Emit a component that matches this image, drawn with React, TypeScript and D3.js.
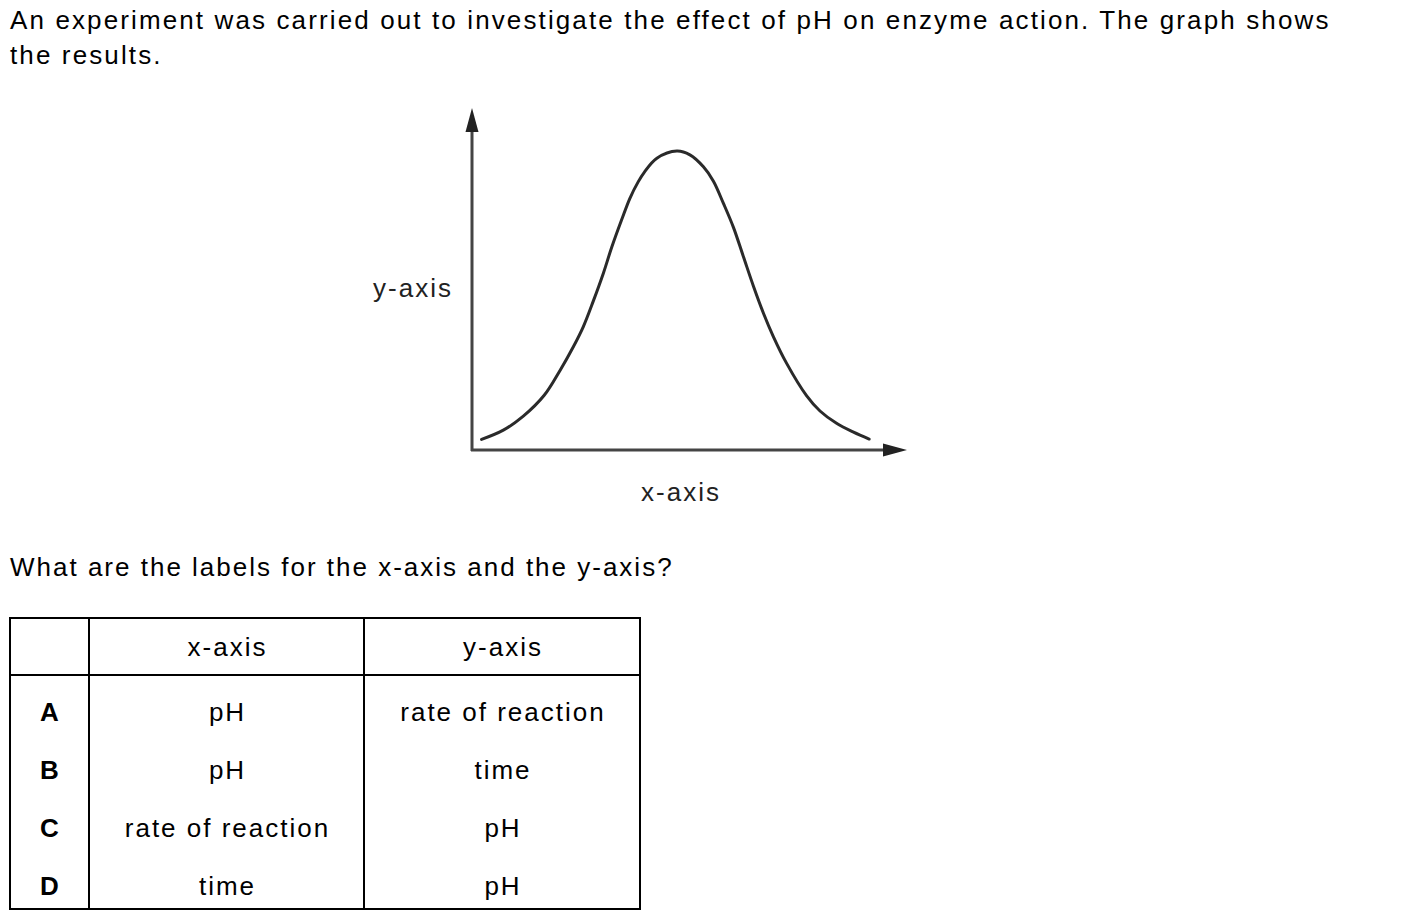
import React from 'react';
import * as d3 from 'd3';

// curve (arbitrary units: x 0..100 along the axis, y 0..100 up the axis)
const phValues = [2.2, 7.2, 11.8, 16.6, 20.2, 23.3, 25.6, 27.9, 30.2, 32.1, 34.4, 36.3, 38.2, 39.6, 42.5, 47.1, 50.1, 53.2, 55.5, 57.8, 60.1, 62.4, 64.7, 67.0, 69.3, 72.3, 76.9, 80.0, 83.8, 87.7, 91.3];
const rateValues = [3.1, 5.8, 9.9, 16.0, 23.2, 30.2, 36.1, 43.6, 51.7, 59.2, 67.3, 73.6, 78.4, 81.2, 85.3, 87.4, 86.3, 82.8, 78.6, 72.1, 65.1, 56.5, 47.9, 40.0, 33.1, 25.4, 15.9, 11.4, 7.8, 5.2, 3.2];

const questionLines = [
  'An experiment was carried out to investigate the effect of pH on enzyme action. The graph shows',
  'the results.',
];
const question2 = 'What are the labels for the x-axis and the y-axis?';

const tableHeader = ['', 'x-axis', 'y-axis'];
const options = ['A', 'B', 'C', 'D'];
const xLabels = ['pH', 'pH', 'rate of reaction', 'time'];
const yLabels = ['rate of reaction', 'time', 'pH', 'pH'];

const FONT = '"Liberation Sans", Arial, sans-serif';

const App = () => {
  const W = 1413;
  const H = 923;

  // graph area
  const x0 = 472, x1 = 907, yBase = 450, yTop = 108;
  const x = d3.scaleLinear().domain([0, 100]).range([x0, x1]);
  const y = d3.scaleLinear().domain([0, 100]).range([yBase, yTop]);

  const pts = phValues.map((v, i) => [v, rateValues[i]] as [number, number]);
  const line = d3.line<[number, number]>()
    .x(d => x(d[0]))
    .y(d => y(d[1]))
    .curve(d3.curveCatmullRom.alpha(0.5));

  // table geometry
  const colX = [10, 89, 364, 640];
  const tTop = 618, headBottom = 675, tBottom = 909;
  const rowY = d3.scaleLinear().domain([0, 1]).range([712, 770]);

  const fs = 26;
  const ls = 2; // the original type is set quite loose

  return (
    <svg width={W} height={H} style={{ position: 'absolute', left: 0, top: 0, background: '#fff' }}
      fontFamily={FONT} letterSpacing={ls}>
      {questionLines.map((t, i) => (
        <text key={i} x={10} y={29 + i * 35} fontSize={fs} fill="#000" letterSpacing={2.12}>{t}</text>
      ))}

      {/* axes */}
      <line x1={x0} y1={yBase + 1} x2={x0} y2={yTop + 22} stroke="#444" strokeWidth={3} />
      <polygon points={`${x0},${yTop} ${x0 - 6.5},${yTop + 24} ${x0 + 6.5},${yTop + 24}`} fill="#222" />
      <line x1={x0 - 1} y1={yBase} x2={x1 - 22} y2={yBase} stroke="#444" strokeWidth={3} />
      <polygon points={`${x1},${yBase} ${x1 - 24},${yBase - 6.5} ${x1 - 24},${yBase + 6.5}`} fill="#222" />

      <path d={line(pts) || ''} fill="none" stroke="#2a2a2a" strokeWidth={3} strokeLinecap="round" />

      <text x={453} y={297} fontSize={fs} textAnchor="end" fill="#222">y-axis</text>
      <text x={681} y={501} fontSize={fs} textAnchor="middle" fill="#222">x-axis</text>

      <text x={10} y={576} fontSize={fs} fill="#000">{question2}</text>

      {/* table */}
      <rect x={colX[0]} y={tTop} width={colX[3] - colX[0]} height={tBottom - tTop}
        fill="none" stroke="#000" strokeWidth={2} />
      <line x1={colX[0]} x2={colX[3]} y1={headBottom} y2={headBottom} stroke="#000" strokeWidth={2} />
      {[colX[1], colX[2]].map((cx, i) => (
        <line key={i} x1={cx} x2={cx} y1={tTop} y2={tBottom} stroke="#000" strokeWidth={2} />
      ))}
      {tableHeader.map((h, i) => (
        <text key={i} x={(colX[i] + colX[i + 1]) / 2 + 1} y={656} fontSize={fs} textAnchor="middle">{h}</text>
      ))}
      {options.map((o, i) => (
        <g key={o}>
          <text x={(colX[0] + colX[1]) / 2 + 1} y={rowY(i) + 9} fontSize={fs} fontWeight="bold" textAnchor="middle">{o}</text>
          <text x={(colX[1] + colX[2]) / 2 + 1} y={rowY(i) + 9} fontSize={fs} textAnchor="middle">{xLabels[i]}</text>
          <text x={(colX[2] + colX[3]) / 2 + 1} y={rowY(i) + 9} fontSize={fs} textAnchor="middle">{yLabels[i]}</text>
        </g>
      ))}
    </svg>
  );
};

export default App;
